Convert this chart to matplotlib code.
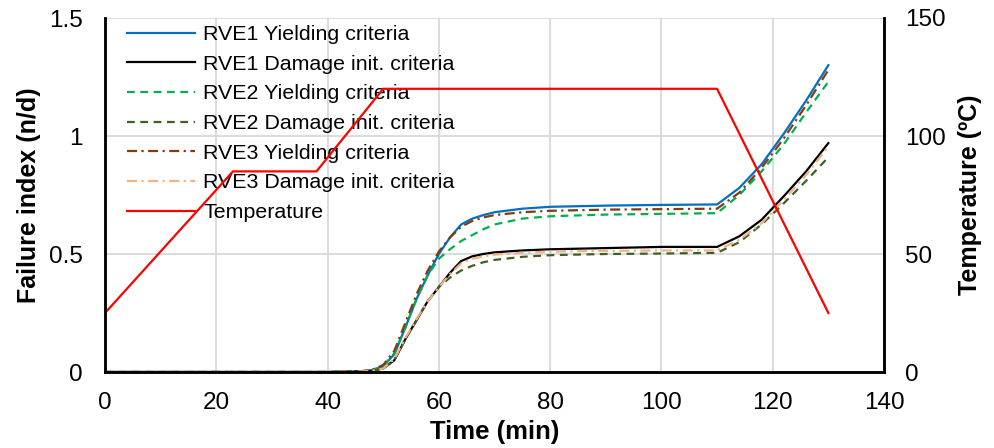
import matplotlib
matplotlib.use("Agg")
import matplotlib.pyplot as plt

plt.rcParams["font.family"] = ["Liberation Sans", "DejaVu Sans"]

# failure index curves (time in min)
time = [0, 10, 20, 30, 40, 46, 48, 50, 52, 54, 56, 58, 60, 62, 64, 66, 68, 70,
        75, 80, 90, 100, 110, 114, 118, 122, 126, 130]
rve1_yield = [0, 0, 0, 0, 0, 0.003, 0.008, 0.025, 0.075, 0.19, 0.31, 0.41, 0.50, 0.57,
              0.625, 0.65, 0.665, 0.677, 0.692, 0.70, 0.705, 0.708, 0.71, 0.78, 0.88,
              1.01, 1.15, 1.30]
rve1_damage = [0, 0, 0, 0, 0, 0.002, 0.005, 0.015, 0.05, 0.14, 0.22, 0.30, 0.36, 0.42,
               0.47, 0.49, 0.50, 0.507, 0.515, 0.52, 0.525, 0.53, 0.53, 0.575, 0.645,
               0.745, 0.85, 0.97]
rve2_yield = [0, 0, 0, 0, 0, 0.003, 0.008, 0.025, 0.08, 0.19, 0.31, 0.41, 0.48, 0.52,
              0.555, 0.58, 0.605, 0.625, 0.65, 0.66, 0.667, 0.67, 0.673, 0.75, 0.85,
              0.965, 1.10, 1.23]
rve2_damage = [0, 0, 0, 0, 0, 0.002, 0.005, 0.015, 0.05, 0.14, 0.22, 0.30, 0.36, 0.40,
               0.43, 0.45, 0.465, 0.475, 0.488, 0.495, 0.50, 0.502, 0.505, 0.55, 0.625,
               0.715, 0.81, 0.91]
rve3_yield = [0, 0, 0, 0, 0, 0.003, 0.009, 0.03, 0.09, 0.21, 0.33, 0.43, 0.51, 0.57,
              0.615, 0.64, 0.655, 0.665, 0.677, 0.683, 0.688, 0.69, 0.692, 0.76, 0.865,
              0.99, 1.13, 1.28]
rve3_damage = [0, 0, 0, 0, 0, 0.002, 0.005, 0.015, 0.055, 0.145, 0.225, 0.30, 0.36, 0.415,
               0.46, 0.48, 0.49, 0.497, 0.505, 0.51, 0.513, 0.515, 0.515, 0.56, 0.63,
               0.73, 0.835, 0.955]

# temperature cycle
temp_time = [0, 23, 38, 50, 110, 130]
temp = [25, 85, 85, 120, 120, 25]

x_ticks = [0, 20, 40, 60, 80, 100, 120, 140]
y_ticks = [0, 0.5, 1, 1.5]
t_ticks = [0, 50, 100, 150]

fig = plt.figure(figsize=(9.94, 4.48), dpi=100)
ax = fig.add_axes([105 / 994, 1 - 372 / 448, 779 / 994, 354 / 448])
ax2 = ax.twinx()

lw = 1.6
dash = (3.5, 2.5)
dashdot = (4.5, 2, 1, 2)
h = []
h += ax.plot(time, rve1_yield, color="#0070C0", lw=lw, label="RVE1 Yielding criteria")
h += ax.plot(time, rve1_damage, color="black", lw=lw, label="RVE1 Damage init. criteria")
h += ax.plot(time, rve2_yield, color="#00B050", lw=lw, dashes=dash, label="RVE2 Yielding criteria")
h += ax.plot(time, rve2_damage, color="#3F5F28", lw=lw, dashes=dash, label="RVE2 Damage init. criteria")
h += ax.plot(time, rve3_yield, color="#843C0C", lw=lw, dashes=dashdot, label="RVE3 Yielding criteria")
h += ax.plot(time, rve3_damage, color="#F4B183", lw=lw, dashes=dashdot, label="RVE3 Damage init. criteria")
h += ax2.plot(temp_time, temp, color="#FF0000", lw=lw, label="Temperature")

ax.set_xlim(0, 140)
ax.set_ylim(0, 1.5)
ax2.set_ylim(0, 150)
ax.set_xticks(x_ticks)
ax.set_yticks(y_ticks)
ax.set_yticklabels(["0", "0.5", "1", "1.5"])
ax2.set_yticks(t_ticks)

ax.grid(True, color="#D9D9D9", lw=1.3)
ax.set_axisbelow(True)

for a in (ax, ax2):
    a.tick_params(length=0)
    a.spines["top"].set_visible(False)
    for s in ("left", "right", "bottom"):
        a.spines[s].set_linewidth(1.8)
ax.tick_params(axis="y", labelsize=17.5, pad=16)
ax2.tick_params(axis="y", labelsize=17.5, pad=15)
ax.tick_params(axis="x", labelsize=17.5, pad=14.5)

ax.set_xlabel("Time (min)", fontsize=18.5, fontweight="bold", labelpad=4)
ax.set_ylabel("Failure index (n/d)", fontsize=18, fontweight="bold", labelpad=6)
ax2.set_ylabel("Temperature (ºC)", fontsize=18, fontweight="bold", labelpad=9)

ax.legend(handles=h, loc="upper left", bbox_to_anchor=(127 / 994, 1 - 25 / 448),
          bbox_transform=fig.transFigure, frameon=False, fontsize=15.4,
          borderpad=0, borderaxespad=0, handlelength=3.2, handletextpad=0.37,
          labelspacing=0.5)

fig.savefig("out.png", dpi=100)
